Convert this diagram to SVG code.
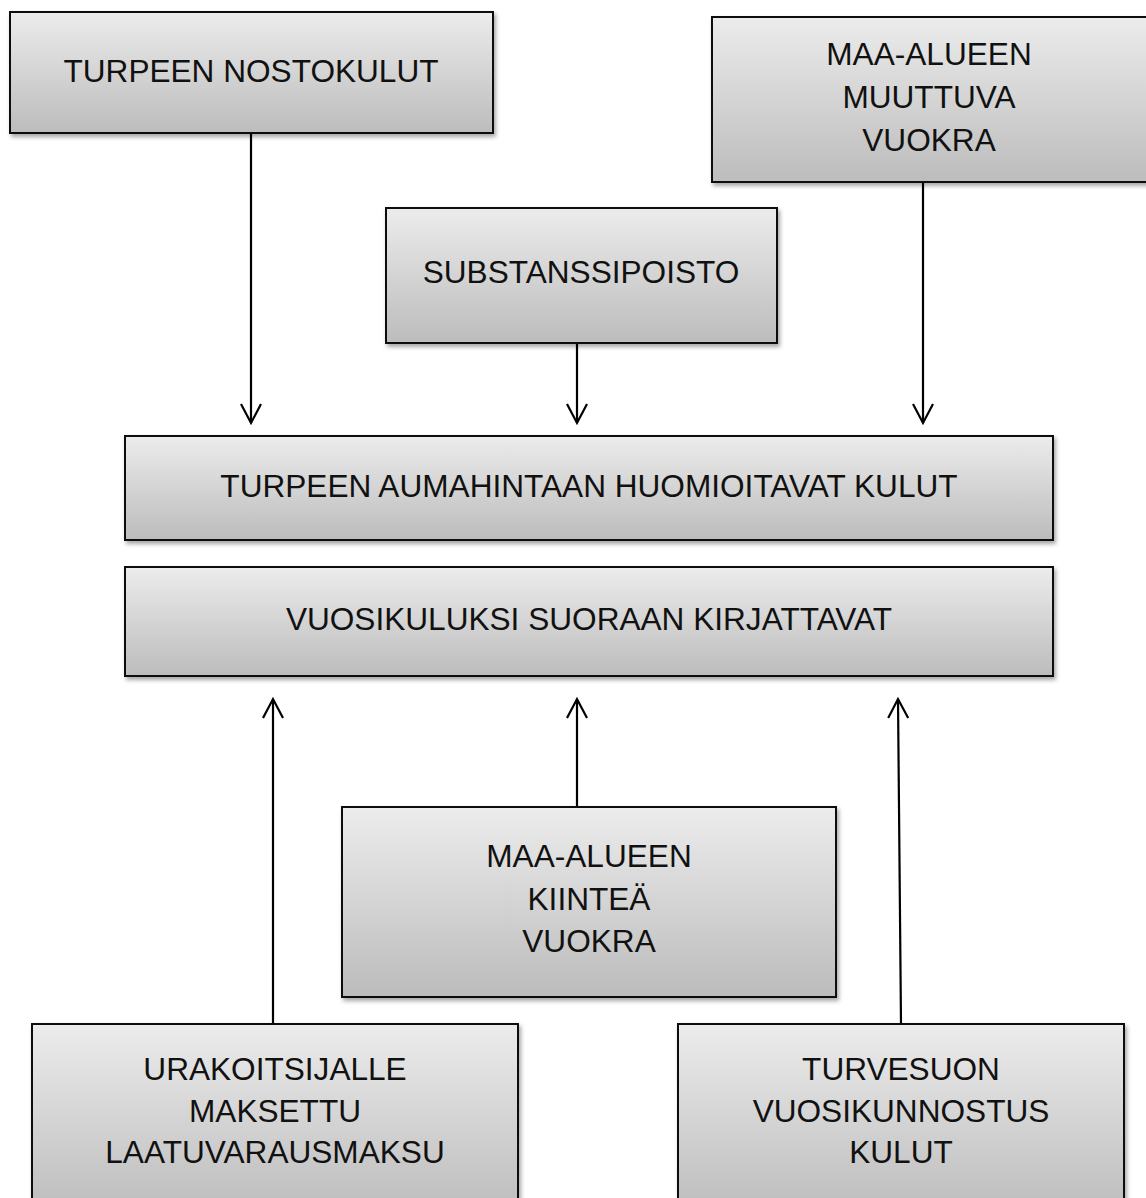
<svg xmlns="http://www.w3.org/2000/svg" width="1146" height="1198" viewBox="0 0 1146 1198">
<defs>
<linearGradient id="g" x1="0" y1="0" x2="0" y2="1">
<stop offset="0" stop-color="#ececec"/>
<stop offset="1" stop-color="#bcbcbc"/>
</linearGradient>
<filter id="sh" x="-5%" y="-5%" width="115%" height="120%">
<feDropShadow dx="2" dy="3" stdDeviation="2" flood-color="#000" flood-opacity="0.35"/>
</filter>
<marker id="ah" markerUnits="userSpaceOnUse" viewBox="-2 -2 24 24" markerWidth="24" markerHeight="24" refX="19" refY="10" orient="auto">
<path d="M0,0 L19,10 L0,20" fill="none" stroke="#000" stroke-width="2.2"/>
</marker>
<style>
.box{fill:url(#g);stroke:#111;stroke-width:2;filter:url(#sh)}
.t{font-family:"Liberation Sans",Arial,sans-serif;font-size:31.6px;fill:#111;text-anchor:middle}
.c{stroke:#000;stroke-width:2.2;fill:none;marker-end:url(#ah)}
</style>
</defs>
<rect width="1146" height="1198" fill="#fff"/>
<g id="connectors">
<line class="c" x1="251" y1="133" x2="251" y2="423"/>
<line class="c" x1="577" y1="343" x2="577" y2="423"/>
<line class="c" x1="923" y1="182" x2="923" y2="423"/>
<line class="c" x1="273" y1="1024" x2="273" y2="699"/>
<line class="c" x1="577" y1="807" x2="577" y2="699"/>
<line class="c" x1="901" y1="1024" x2="898" y2="699"/>
</g>
<g id="n-nostokulut">
<rect class="box" x="10" y="12" width="483" height="121"/>
<text class="t" x="251" y="82">TURPEEN NOSTOKULUT</text>
</g>
<g id="n-muuttuva">
<rect class="box" x="712" y="17" width="437" height="165"/>
<text class="t" x="929" y="65">MAA-ALUEEN</text>
<text class="t" x="929" y="108">MUUTTUVA</text>
<text class="t" x="929" y="151">VUOKRA</text>
</g>
<g id="n-substanssi">
<rect class="box" x="386" y="208" width="391" height="135"/>
<text class="t" x="581" y="283">SUBSTANSSIPOISTO</text>
</g>
<g id="n-aumahinta">
<rect class="box" x="125" y="436" width="928" height="104"/>
<text class="t" x="589" y="497">TURPEEN AUMAHINTAAN HUOMIOITAVAT KULUT</text>
</g>
<g id="n-vuosikulu">
<rect class="box" x="125" y="567" width="928" height="109"/>
<text class="t" x="589" y="630">VUOSIKULUKSI SUORAAN KIRJATTAVAT</text>
</g>
<g id="n-kiintea">
<rect class="box" x="342" y="807" width="494" height="190"/>
<text class="t" x="589" y="867">MAA-ALUEEN</text>
<text class="t" x="589" y="910">KIINTEÄ</text>
<text class="t" x="589" y="952">VUOKRA</text>
</g>
<g id="n-urakoitsija">
<rect class="box" x="32" y="1024" width="486" height="190"/>
<text class="t" x="275" y="1080">URAKOITSIJALLE</text>
<text class="t" x="275" y="1122">MAKSETTU</text>
<text class="t" x="275" y="1163">LAATUVARAUSMAKSU</text>
</g>
<g id="n-turvesuo">
<rect class="box" x="678" y="1024" width="446" height="190"/>
<text class="t" x="901" y="1080">TURVESUON</text>
<text class="t" x="901" y="1122">VUOSIKUNNOSTUS</text>
<text class="t" x="901" y="1163">KULUT</text>
</g>
</svg>
